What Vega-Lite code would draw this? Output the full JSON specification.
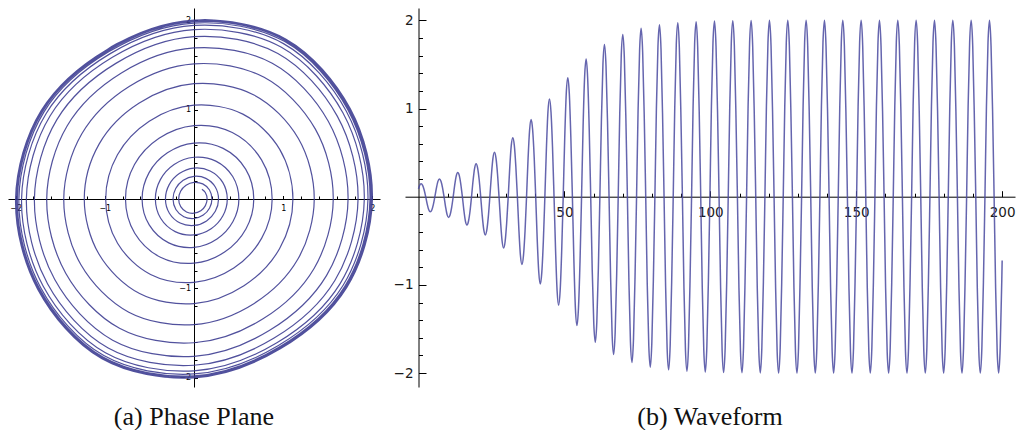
{
  "$schema": "https://vega.github.io/schema/vega-lite/v6.json",
  "background": "white",
  "padding": {"left": 8, "top": 8, "right": 0, "bottom": 0},
  "bounds": "flush",
  "spacing": 25,
  "config": {
    "view": {"stroke": null},
    "axis": {
      "grid": false,
      "domainColor": "#000000",
      "domainWidth": 1,
      "tickColor": "#000000",
      "tickWidth": 1,
      "labelColor": "#1a1a1a",
      "labelFlush": false,
      "labelOverlap": false,
      "zindex": 1,
      "title": null
    },
    "title": {"font": "Liberation Serif", "fontSize": 26, "fontWeight": "normal", "color": "#111111"}
  },
  "datasets": {
    "vdp": [
      {"t":0,"x":0.089,"v":0.110},{"t":0.37,"x":0.127,"v":0.073},
      {"t":0.89,"x":0.147,"v":0},{"t":1.41,"x":0.128,"v":-0.074},{"t":1.94,"x":0.076,"v":-0.132},{"t":2.46,"x":0,"v":-0.159},{"t":2.98,"x":-0.084,"v":-0.145},{"t":3.51,"x":-0.149,"v":-0.086},{"t":4.03,"x":-0.172,"v":0},{"t":4.56,"x":-0.150,"v":0.087},{"t":5.08,"x":-0.089,"v":0.154},{"t":5.60,"x":0,"v":0.186},{"t":6.13,"x":0.098,"v":0.169},{"t":6.65,"x":0.174,"v":0.100},
      {"t":7.17,"x":0.201,"v":0},{"t":7.70,"x":0.175,"v":-0.101},{"t":8.22,"x":0.104,"v":-0.180},{"t":8.74,"x":0,"v":-0.218},{"t":9.27,"x":-0.114,"v":-0.198},{"t":9.79,"x":-0.203,"v":-0.117},{"t":10.32,"x":-0.235,"v":0},{"t":10.84,"x":-0.205,"v":0.118},{"t":11.36,"x":-0.121,"v":0.210},{"t":11.89,"x":0,"v":0.254},{"t":12.41,"x":0.133,"v":0.231},{"t":12.93,"x":0.237,"v":0.137},
      {"t":13.46,"x":0.275,"v":0},{"t":13.98,"x":0.239,"v":-0.138},{"t":14.50,"x":0.141,"v":-0.245},{"t":15.03,"x":0,"v":-0.296},{"t":15.55,"x":-0.155,"v":-0.269},{"t":16.07,"x":-0.276,"v":-0.159},{"t":16.60,"x":-0.320,"v":0},{"t":17.12,"x":-0.278,"v":0.161},{"t":17.65,"x":-0.165,"v":0.285},{"t":18.17,"x":0,"v":0.346},{"t":18.69,"x":0.181,"v":0.314},{"t":19.22,"x":0.322,"v":0.186},
      {"t":19.74,"x":0.373,"v":0},{"t":20.26,"x":0.324,"v":-0.187},{"t":20.79,"x":0.192,"v":-0.332},{"t":21.31,"x":0,"v":-0.402},{"t":21.83,"x":-0.211,"v":-0.365},{"t":22.36,"x":-0.374,"v":-0.216},{"t":22.88,"x":-0.433,"v":0},{"t":23.41,"x":-0.377,"v":0.217},{"t":23.93,"x":-0.223,"v":0.386},{"t":24.45,"x":0,"v":0.467},{"t":24.98,"x":0.245,"v":0.424},{"t":25.50,"x":0.434,"v":0.251},
      {"t":26.02,"x":0.503,"v":0},{"t":26.55,"x":0.437,"v":-0.252},{"t":27.07,"x":0.258,"v":-0.447},{"t":27.59,"x":0,"v":-0.541},{"t":28.12,"x":-0.283,"v":-0.491},{"t":28.64,"x":-0.502,"v":-0.290},{"t":29.17,"x":-0.582,"v":0},{"t":29.69,"x":-0.505,"v":0.292},{"t":30.21,"x":-0.298,"v":0.516},{"t":30.74,"x":0,"v":0.625},{"t":31.26,"x":0.327,"v":0.566},{"t":31.78,"x":0.579,"v":0.334},
      {"t":32.31,"x":0.670,"v":0},{"t":32.83,"x":0.582,"v":-0.336},{"t":33.35,"x":0.343,"v":-0.594},{"t":33.88,"x":0,"v":-0.718},{"t":34.40,"x":-0.376,"v":-0.651},{"t":34.92,"x":-0.664,"v":-0.383},{"t":35.45,"x":-0.768,"v":0},{"t":35.97,"x":-0.667,"v":0.385},{"t":36.50,"x":-0.392,"v":0.679},{"t":37.02,"x":0,"v":0.821},{"t":37.54,"x":0.429,"v":0.744},{"t":38.07,"x":0.757,"v":0.437},
      {"t":38.59,"x":0.876,"v":0},{"t":39.11,"x":0.759,"v":-0.438},{"t":39.64,"x":0.446,"v":-0.772},{"t":40.16,"x":0,"v":-0.932},{"t":40.68,"x":-0.487,"v":-0.844},{"t":41.21,"x":-0.857,"v":-0.495},{"t":41.73,"x":-0.990,"v":0},{"t":42.25,"x":-0.858,"v":0.495},{"t":42.78,"x":-0.502,"v":0.870},{"t":43.30,"x":0,"v":1.049},{"t":43.83,"x":0.548,"v":0.949},{"t":44.35,"x":0.961,"v":0.555},
      {"t":44.87,"x":1.109,"v":0},{"t":45.40,"x":0.960,"v":-0.554},{"t":45.92,"x":0.560,"v":-0.970},{"t":46.44,"x":0,"v":-1.170},{"t":46.97,"x":-0.610,"v":-1.057},{"t":47.49,"x":-1.066,"v":-0.616},{"t":48.01,"x":-1.230,"v":0},{"t":48.54,"x":-1.064,"v":0.614},{"t":49.06,"x":-0.618,"v":1.071},{"t":49.58,"x":0,"v":1.290},{"t":50.11,"x":0.672,"v":1.164},{"t":50.63,"x":1.170,"v":0.676},
      {"t":51.16,"x":1.348,"v":0},{"t":51.68,"x":1.165,"v":-0.672},{"t":52.20,"x":0.675,"v":-1.168},{"t":52.73,"x":0,"v":-1.405},{"t":53.25,"x":-0.731,"v":-1.266},{"t":53.77,"x":-1.269,"v":-0.733},{"t":54.30,"x":-1.460,"v":0},{"t":54.82,"x":-1.259,"v":0.727},{"t":55.35,"x":-0.727,"v":1.259},{"t":55.87,"x":0,"v":1.512},{"t":56.39,"x":0.786,"v":1.361},{"t":56.92,"x":1.359,"v":0.784},
      {"t":57.44,"x":1.561,"v":0},{"t":57.96,"x":1.346,"v":-0.777},{"t":58.49,"x":0.774,"v":-1.340},{"t":59.01,"x":0,"v":-1.608},{"t":59.53,"x":-0.835,"v":-1.446},{"t":60.06,"x":-1.438,"v":-0.830},{"t":60.58,"x":-1.651,"v":0},{"t":61.10,"x":-1.421,"v":0.820},{"t":61.63,"x":-0.814,"v":1.410},{"t":62.15,"x":0,"v":1.690},{"t":62.68,"x":0.877,"v":1.518},{"t":63.20,"x":1.505,"v":0.869},
      {"t":63.72,"x":1.727,"v":0},{"t":64.25,"x":1.485,"v":-0.857},{"t":64.77,"x":0.848,"v":-1.469},{"t":65.29,"x":0,"v":-1.760},{"t":65.82,"x":-0.912,"v":-1.579},{"t":66.34,"x":-1.561,"v":-0.901},{"t":66.86,"x":-1.789,"v":0},{"t":67.39,"x":-1.537,"v":0.888},{"t":67.91,"x":-0.876,"v":1.517},{"t":68.43,"x":0,"v":1.816},{"t":68.96,"x":0.940,"v":1.628},{"t":69.48,"x":1.606,"v":0.927},
      {"t":70.01,"x":1.839,"v":0},{"t":70.53,"x":1.579,"v":-0.912},{"t":71.05,"x":0.898,"v":-1.556},{"t":71.58,"x":0,"v":-1.860},{"t":72.10,"x":-0.962,"v":-1.667},{"t":72.62,"x":-1.642,"v":-0.948},{"t":73.15,"x":-1.879,"v":0},{"t":73.67,"x":-1.612,"v":0.931},{"t":74.19,"x":-0.915,"v":1.585},{"t":74.72,"x":0,"v":1.895},{"t":75.24,"x":0.980,"v":1.697},{"t":75.77,"x":1.669,"v":0.964},
      {"t":76.29,"x":1.909,"v":0},{"t":76.81,"x":1.638,"v":-0.946},{"t":77.34,"x":0.929,"v":-1.608},{"t":77.86,"x":0,"v":-1.922},{"t":78.38,"x":-0.993,"v":-1.720},{"t":78.91,"x":-1.690,"v":-0.976},{"t":79.43,"x":-1.933,"v":0},{"t":79.95,"x":-1.657,"v":0.957},{"t":80.48,"x":-0.939,"v":1.626},{"t":81.00,"x":0,"v":1.942},{"t":81.52,"x":1.003,"v":1.738},{"t":82.05,"x":1.706,"v":0.985},
      {"t":82.57,"x":1.950,"v":0},{"t":83.10,"x":1.672,"v":-0.965},{"t":83.62,"x":0.946,"v":-1.639},{"t":84.14,"x":0,"v":-1.957},{"t":84.67,"x":-1.011,"v":-1.751},{"t":85.19,"x":-1.718,"v":-0.992},{"t":85.71,"x":-1.963,"v":0},{"t":86.24,"x":-1.683,"v":0.972},{"t":86.76,"x":-0.952,"v":1.649},{"t":87.28,"x":0,"v":1.968},{"t":87.81,"x":1.017,"v":1.761},{"t":88.33,"x":1.726,"v":0.997},
      {"t":88.86,"x":1.973,"v":0},{"t":89.38,"x":1.691,"v":-0.976},{"t":89.90,"x":0.956,"v":-1.656},{"t":90.43,"x":0,"v":-1.977},{"t":90.95,"x":-1.021,"v":-1.768},{"t":91.47,"x":-1.733,"v":-1.000},{"t":92.00,"x":-1.980,"v":0},{"t":92.52,"x":-1.697,"v":0.980},{"t":93.04,"x":-0.959,"v":1.661},{"t":93.57,"x":0,"v":1.983},{"t":94.09,"x":1.024,"v":1.773},{"t":94.62,"x":1.738,"v":1.003},
      {"t":95.14,"x":1.985,"v":0},{"t":95.66,"x":1.701,"v":-0.982},{"t":96.19,"x":0.961,"v":-1.665},{"t":96.71,"x":0,"v":-1.988},{"t":97.23,"x":-1.026,"v":-1.778},{"t":97.76,"x":-1.741,"v":-1.005},{"t":98.28,"x":-1.989,"v":0},{"t":98.80,"x":-1.704,"v":0.984},{"t":99.33,"x":-0.963,"v":1.668},{"t":99.85,"x":0,"v":1.991},{"t":100.37,"x":1.028,"v":1.780},{"t":100.90,"x":1.744,"v":1.007},
      {"t":101.42,"x":1.992,"v":0},{"t":101.95,"x":1.707,"v":-0.985},{"t":102.47,"x":0.964,"v":-1.670},{"t":102.99,"x":0,"v":-1.993},{"t":103.52,"x":-1.029,"v":-1.782},{"t":104.04,"x":-1.746,"v":-1.008},{"t":104.56,"x":-1.994,"v":0},{"t":105.09,"x":-1.708,"v":0.986},{"t":105.61,"x":-0.965,"v":1.672},{"t":106.13,"x":0,"v":1.995},{"t":106.66,"x":1.030,"v":1.784},{"t":107.18,"x":1.747,"v":1.009},
      {"t":107.70,"x":1.996,"v":0},{"t":108.23,"x":1.710,"v":-0.987},{"t":108.75,"x":0.966,"v":-1.673},{"t":109.28,"x":0,"v":-1.996},{"t":109.80,"x":-1.031,"v":-1.785},{"t":110.32,"x":-1.748,"v":-1.009},{"t":110.85,"x":-1.997,"v":0},{"t":111.37,"x":-1.711,"v":0.988},{"t":111.89,"x":-0.966,"v":1.673},{"t":112.42,"x":0,"v":1.997},{"t":112.94,"x":1.031,"v":1.786},{"t":113.46,"x":1.749,"v":1.010},
      {"t":113.99,"x":1.998,"v":0},{"t":114.51,"x":1.711,"v":-0.988},{"t":115.04,"x":0.967,"v":-1.674},{"t":115.56,"x":0,"v":-1.998},{"t":116.08,"x":-1.032,"v":-1.787},{"t":116.61,"x":-1.749,"v":-1.010},{"t":117.13,"x":-1.998,"v":0},{"t":117.65,"x":-1.712,"v":0.988},{"t":118.18,"x":-0.967,"v":1.675},{"t":118.70,"x":0,"v":1.999},{"t":119.22,"x":1.032,"v":1.787},{"t":119.75,"x":1.750,"v":1.010},
      {"t":120.27,"x":2.000,"v":0},{"t":120.80,"x":1.713,"v":-0.989},{"t":121.32,"x":0.968,"v":-1.676},{"t":121.84,"x":0,"v":-2.000},{"t":122.37,"x":-1.032,"v":-1.788},{"t":122.89,"x":-1.751,"v":-1.011},{"t":123.41,"x":-2.000,"v":0},{"t":123.94,"x":-1.713,"v":0.989},{"t":124.46,"x":-0.968,"v":1.676},{"t":124.98,"x":0,"v":2.000},{"t":125.51,"x":1.032,"v":1.788},{"t":126.03,"x":1.751,"v":1.011},
      {"t":126.55,"x":2.000,"v":0},{"t":127.08,"x":1.713,"v":-0.989},{"t":127.60,"x":0.968,"v":-1.676},{"t":128.13,"x":0,"v":-2.000},{"t":128.65,"x":-1.032,"v":-1.788},{"t":129.17,"x":-1.751,"v":-1.011},{"t":129.70,"x":-2.000,"v":0},{"t":130.22,"x":-1.713,"v":0.989},{"t":130.74,"x":-0.968,"v":1.676},{"t":131.27,"x":0,"v":2.000},{"t":131.79,"x":1.032,"v":1.788},{"t":132.31,"x":1.751,"v":1.011},
      {"t":132.84,"x":2.000,"v":0},{"t":133.36,"x":1.713,"v":-0.989},{"t":133.88,"x":0.968,"v":-1.676},{"t":134.41,"x":0,"v":-2.000},{"t":134.93,"x":-1.032,"v":-1.788},{"t":135.46,"x":-1.751,"v":-1.011},{"t":135.98,"x":-2.000,"v":0},{"t":136.50,"x":-1.713,"v":0.989},{"t":137.03,"x":-0.968,"v":1.676},{"t":137.55,"x":0,"v":2.000},{"t":138.07,"x":1.032,"v":1.788},{"t":138.60,"x":1.751,"v":1.011},
      {"t":139.12,"x":2.000,"v":0},{"t":139.64,"x":1.713,"v":-0.989},{"t":140.17,"x":0.968,"v":-1.676},{"t":140.69,"x":0,"v":-2.000},{"t":141.21,"x":-1.032,"v":-1.788},{"t":141.74,"x":-1.751,"v":-1.011},{"t":142.26,"x":-2.000,"v":0},{"t":142.79,"x":-1.713,"v":0.989},{"t":143.31,"x":-0.968,"v":1.676},{"t":143.83,"x":0,"v":2.000},{"t":144.36,"x":1.032,"v":1.788},{"t":144.88,"x":1.751,"v":1.011},
      {"t":145.40,"x":2.000,"v":0},{"t":145.93,"x":1.713,"v":-0.989},{"t":146.45,"x":0.968,"v":-1.676},{"t":146.97,"x":0,"v":-2.000},{"t":147.50,"x":-1.032,"v":-1.788},{"t":148.02,"x":-1.751,"v":-1.011},{"t":148.55,"x":-2.000,"v":0},{"t":149.07,"x":-1.713,"v":0.989},{"t":149.59,"x":-0.968,"v":1.676},{"t":150.12,"x":0,"v":2.000},{"t":150.64,"x":1.032,"v":1.788},{"t":151.16,"x":1.751,"v":1.011},
      {"t":151.69,"x":2.000,"v":0},{"t":152.21,"x":1.713,"v":-0.989},{"t":152.73,"x":0.968,"v":-1.676},{"t":153.26,"x":0,"v":-2.000},{"t":153.78,"x":-1.032,"v":-1.788},{"t":154.31,"x":-1.751,"v":-1.011},{"t":154.83,"x":-2.000,"v":0},{"t":155.35,"x":-1.713,"v":0.989},{"t":155.88,"x":-0.968,"v":1.676},{"t":156.40,"x":0,"v":2.000},{"t":156.92,"x":1.032,"v":1.788},{"t":157.45,"x":1.751,"v":1.011},
      {"t":157.97,"x":2.000,"v":0},{"t":158.49,"x":1.713,"v":-0.989},{"t":159.02,"x":0.968,"v":-1.676},{"t":159.54,"x":0,"v":-2.000},{"t":160.06,"x":-1.032,"v":-1.788},{"t":160.59,"x":-1.751,"v":-1.011},{"t":161.11,"x":-2.000,"v":0},{"t":161.64,"x":-1.713,"v":0.989},{"t":162.16,"x":-0.968,"v":1.676},{"t":162.68,"x":0,"v":2.000},{"t":163.21,"x":1.032,"v":1.788},{"t":163.73,"x":1.751,"v":1.011},
      {"t":164.25,"x":2.000,"v":0},{"t":164.78,"x":1.713,"v":-0.989},{"t":165.30,"x":0.968,"v":-1.676},{"t":165.82,"x":0,"v":-2.000},{"t":166.35,"x":-1.032,"v":-1.788},{"t":166.87,"x":-1.751,"v":-1.011},{"t":167.40,"x":-2.000,"v":0},{"t":167.92,"x":-1.713,"v":0.989},{"t":168.44,"x":-0.968,"v":1.676},{"t":168.97,"x":0,"v":2.000},{"t":169.49,"x":1.032,"v":1.788},{"t":170.01,"x":1.751,"v":1.011},
      {"t":170.54,"x":2.000,"v":0},{"t":171.06,"x":1.713,"v":-0.989},{"t":171.58,"x":0.968,"v":-1.676},{"t":172.11,"x":0,"v":-2.000},{"t":172.63,"x":-1.032,"v":-1.788},{"t":173.15,"x":-1.751,"v":-1.011},{"t":173.68,"x":-2.000,"v":0},{"t":174.20,"x":-1.713,"v":0.989},{"t":174.73,"x":-0.968,"v":1.676},{"t":175.25,"x":0,"v":2.000},{"t":175.77,"x":1.032,"v":1.788},{"t":176.30,"x":1.751,"v":1.011},
      {"t":176.82,"x":2.000,"v":0},{"t":177.34,"x":1.713,"v":-0.989},{"t":177.87,"x":0.968,"v":-1.676},{"t":178.39,"x":0,"v":-2.000},{"t":178.91,"x":-1.032,"v":-1.788},{"t":179.44,"x":-1.751,"v":-1.011},{"t":179.96,"x":-2.000,"v":0},{"t":180.49,"x":-1.713,"v":0.989},{"t":181.01,"x":-0.968,"v":1.676},{"t":181.53,"x":0,"v":2.000},{"t":182.06,"x":1.032,"v":1.788},{"t":182.58,"x":1.751,"v":1.011},
      {"t":183.10,"x":2.000,"v":0},{"t":183.63,"x":1.713,"v":-0.989},{"t":184.15,"x":0.968,"v":-1.676},{"t":184.67,"x":0,"v":-2.000},{"t":185.20,"x":-1.032,"v":-1.788},{"t":185.72,"x":-1.751,"v":-1.011},{"t":186.25,"x":-2.000,"v":0},{"t":186.77,"x":-1.713,"v":0.989},{"t":187.29,"x":-0.968,"v":1.676},{"t":187.82,"x":0,"v":2.000},{"t":188.34,"x":1.032,"v":1.788},{"t":188.86,"x":1.751,"v":1.011},
      {"t":189.39,"x":2.000,"v":0},{"t":189.91,"x":1.713,"v":-0.989},{"t":190.43,"x":0.968,"v":-1.676},{"t":190.96,"x":0,"v":-2.000},{"t":191.48,"x":-1.032,"v":-1.788},{"t":192.00,"x":-1.751,"v":-1.011},{"t":192.53,"x":-2.000,"v":0},{"t":193.05,"x":-1.713,"v":0.989},{"t":193.58,"x":-0.968,"v":1.676},{"t":194.10,"x":0,"v":2.000},{"t":194.62,"x":1.032,"v":1.788},{"t":195.15,"x":1.751,"v":1.011},
      {"t":195.67,"x":2.000,"v":0},{"t":196.19,"x":1.713,"v":-0.989},{"t":196.72,"x":0.968,"v":-1.676},{"t":197.24,"x":0,"v":-2.000},{"t":197.76,"x":-1.032,"v":-1.788},{"t":198.29,"x":-1.751,"v":-1.011},{"t":198.81,"x":-2.000,"v":0},{"t":199.33,"x":-1.713,"v":0.989},{"t":199.86,"x":-0.968,"v":1.676},{"t":200,"x":-0.724,"v":1.800}
    ]
  },
  "hconcat": [
    {
      "width": 372,
      "height": 379,
      "title": {"text": "(a) Phase Plane", "orient": "bottom", "anchor": "middle", "frame": "group", "offset": 17},
      "data": {"name": "vdp"},
      "layer": [
        {
          "mark": {"type": "line", "interpolate": "catmull-rom", "color": "#3e3e92", "strokeWidth": 1.2, "opacity": 0.9},
          "encoding": {
            "x": {"field": "x", "type": "quantitative", "scale": {"domain": [-2.085, 2.085], "nice": false, "zero": false},
                  "axis": {"orient": "bottom", "offset": -188, "values": [-2, -1, 1, 2], "format": "d", "tickSize": -3.5, "labelPadding": 9, "labelFont": "DejaVu Sans", "labelFontSize": 8, "labelColor": "#000000"}},
            "y": {"field": "v", "type": "quantitative", "scale": {"domain": [-2.103, 2.1365], "nice": false, "zero": false},
                  "axis": {"orient": "left", "offset": -186, "values": [-2, -1, 1, 2], "format": "d", "tickSize": -3.5, "labelPadding": 7, "labelFont": "DejaVu Sans", "labelFontSize": 8, "labelColor": "#000000"}},
            "order": {"field": "t", "type": "quantitative"}
          }
        },
        {
          "mark": {"type": "line", "strokeOpacity": 0},
          "encoding": {
            "x": {"field": "x", "type": "quantitative", "scale": {"domain": [-2.085, 2.085], "nice": false, "zero": false},
                  "axis": {"orient": "bottom", "offset": -188, "domain": false, "labels": false, "tickSize": -3,
                           "values": [-1.8, -1.6, -1.4, -1.2, -0.8, -0.6, -0.4, -0.2, 0.2, 0.4, 0.6, 0.8, 1.2, 1.4, 1.6, 1.8]}},
            "y": {"field": "v", "type": "quantitative", "scale": {"domain": [-2.103, 2.1365], "nice": false, "zero": false},
                  "axis": {"orient": "left", "offset": -186, "domain": false, "labels": false, "tickSize": -3,
                           "values": [-1.8, -1.6, -1.4, -1.2, -0.8, -0.6, -0.4, -0.2, 0.2, 0.4, 0.6, 0.8, 1.2, 1.4, 1.6, 1.8]}},
            "order": {"field": "t", "type": "quantitative"}
          }
        }
      ],
      "resolve": {"axis": {"x": "independent", "y": "independent"}}
    },
    {
      "width": 610,
      "height": 379,
      "title": {"text": "(b) Waveform", "orient": "bottom", "anchor": "middle", "frame": "group", "offset": 17},
      "data": {"name": "vdp"},
      "layer": [
        {
          "mark": {"type": "line", "interpolate": "monotone", "color": "#4a4aa0", "strokeWidth": 1.5, "opacity": 0.85},
          "encoding": {
            "x": {"field": "t", "type": "quantitative", "scale": {"domain": [-4.63, 204.4], "nice": false, "zero": false},
                  "axis": {"orient": "bottom", "offset": -190.3, "values": [50, 100, 150, 200], "format": "d", "tickSize": -6, "labelPadding": 15, "labelFont": "DejaVu Sans", "labelFontSize": 13.5}},
            "y": {"field": "x", "type": "quantitative", "scale": {"domain": [-2.158, 2.14], "nice": false, "zero": false},
                  "axis": {"orient": "left", "offset": -13.5, "values": [-2, -1, 1, 2], "format": "d", "tickSize": -7.5, "labelPadding": 13, "labelFont": "DejaVu Sans", "labelFontSize": 13.5}}
          }
        },
        {
          "mark": {"type": "line", "strokeOpacity": 0},
          "encoding": {
            "x": {"field": "t", "type": "quantitative", "scale": {"domain": [-4.63, 204.4], "nice": false, "zero": false},
                  "axis": {"orient": "bottom", "offset": -190.3, "domain": false, "labels": false, "tickSize": -3.5,
                           "values": [10, 20, 30, 40, 60, 70, 80, 90, 110, 120, 130, 140, 160, 170, 180, 190]}},
            "y": {"field": "x", "type": "quantitative", "scale": {"domain": [-2.158, 2.14], "nice": false, "zero": false},
                  "axis": {"orient": "left", "offset": -13.5, "domain": false, "labels": false, "tickSize": -4,
                           "values": [-1.8, -1.6, -1.4, -1.2, -0.8, -0.6, -0.4, -0.2, 0.2, 0.4, 0.6, 0.8, 1.2, 1.4, 1.6, 1.8]}}
          }
        }
      ],
      "resolve": {"axis": {"x": "independent", "y": "independent"}}
    }
  ]
}
